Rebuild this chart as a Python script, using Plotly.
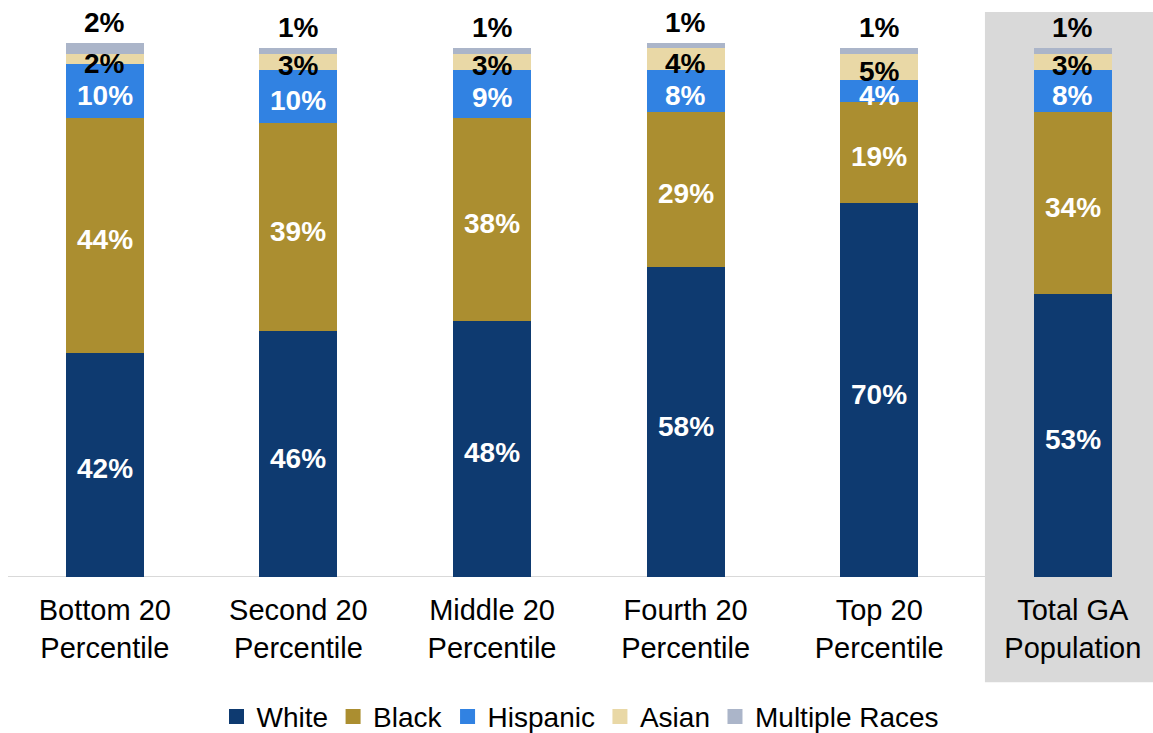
import numpy as np
import plotly.graph_objects as go

categories = ["Bottom 20<br>Percentile", "Second 20<br>Percentile", "Middle 20<br>Percentile",
              "Fourth 20<br>Percentile", "Top 20<br>Percentile", "Total GA<br>Population"]
series_names = ["White", "Black", "Hispanic", "Asian", "Multiple Races"]
white = [42, 46, 48, 58, 70, 53]
black = [44, 39, 38, 29, 19, 34]
hispanic = [10, 10, 9, 8, 4, 8]
asian = [2, 3, 3, 4, 5, 3]
multiple = [2, 1, 1, 1, 1, 1]

colors = ["#0E3A70", "#AB8E30", "#3182E2", "#E9D8A6", "#ABB5C9"]
label_colors = ["white", "white", "white", "black", "black"]

series = [white, black, hispanic, asian, multiple]
FONT = "Liberation Sans, Arial, sans-serif"

fig = go.Figure()
xs = list(range(len(categories)))
for name, vals, col in zip(series_names, series, colors):
    fig.add_trace(go.Bar(x=xs, y=vals, name=name, marker=dict(color=col, line=dict(width=0)),
                         width=0.403, showlegend=False, hoverinfo="skip"))

# in-segment labels (first four series)
arr = np.array(series, dtype=float)
cum = np.cumsum(arr, axis=0)
mid = cum - arr / 2
for s in range(4):
    for i in xs:
        fig.add_annotation(x=i, y=mid[s, i], text=f"<b>{int(arr[s, i])}%</b>", showarrow=False,
                           yanchor="middle", yshift=-4,
                           font=dict(family=FONT, size=28, color=label_colors[s]))

# labels above the bars (multiple races)
totals = cum[-1]
for i in xs:
    fig.add_annotation(x=i, y=totals[i], text=f"<b>{multiple[i]}%</b>", showarrow=False,
                       yanchor="bottom", yshift=3, font=dict(family=FONT, size=28, color="black"))

# legend entries
for name, col in zip(series_names, colors):
    fig.add_trace(go.Scatter(x=[None], y=[None], mode="markers", name=name,
                             marker=dict(symbol="square", size=15, color=col)))

# axis line and highlighted panel
fig.add_shape(type="line", xref="x", yref="y", x0=-0.5, x1=5.414, y0=0, y1=0,
              line=dict(color="#D9D9D9", width=2), layer="below")
fig.add_shape(type="rect", xref="x", yref="paper", x0=4.546, x1=5.414, y0=-0.197, y1=1.058,
              fillcolor="#D9D9D9", line=dict(width=0), layer="below")

fig.update_layout(
    width=1153, height=733,
    margin=dict(l=8, r=0, t=43, b=156, autoexpand=False),
    paper_bgcolor="white", plot_bgcolor="rgba(0,0,0,0)",
    barmode="stack", bargap=0,
    font=dict(family=FONT, color="black"),
    xaxis=dict(tickvals=xs, ticktext=categories, range=[-0.5, 5.414], showgrid=False,
               zeroline=False, showline=False, ticks="", automargin=False,
               ticklabelstandoff=13, tickfont=dict(size=29, color="black")),
    yaxis=dict(range=[0, 100], visible=False, automargin=False),
    legend=dict(orientation="h", x=0.5, xanchor="center", yref="container", y=0.022,
                yanchor="middle", traceorder="normal", entrywidthmode="pixels",
                font=dict(size=28, color="black"), itemwidth=30, bgcolor="rgba(0,0,0,0)"),
)

fig.write_html("out.html")
